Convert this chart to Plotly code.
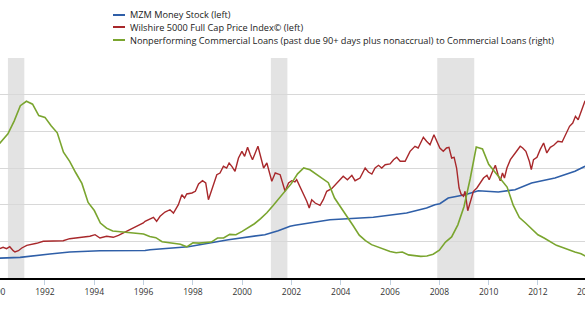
import numpy as np
import pandas as pd
import plotly.graph_objects as go

# ---------------- data ----------------
mzm_t = [1990.0, 1990.17, 1990.99, 1992.2, 1993.0, 1994.23, 1995.3, 1996.06, 1996.26, 1997.81,
         1999.44, 2000.92, 2001.46, 2001.94, 2002.14, 2003.56, 2005.32, 2006.67, 2007.48, 2007.82,
         2008.02, 2008.36, 2009.04, 2009.58, 2010.39, 2011.07, 2011.74, 2012.69, 2013.5, 2013.91]
mzm_v = [2150, 2182, 2255, 2618, 2836, 2980, 2950, 3000, 3090, 3415,
         4180, 4725, 5160, 5640, 5750, 6360, 6620, 7090, 7640, 8000,
         8110, 8730, 9090, 9525, 9380, 9635, 10365, 10910, 11640, 12190]

wil_t = [1990.17, 1990.30, 1990.44, 1990.57, 1990.71, 1990.78, 1990.92, 1991.06, 1991.26, 1991.46,
         1991.66, 1991.93, 1992.20, 1992.47, 1992.74, 1993.00, 1993.28, 1993.55, 1993.82, 1994.03,
         1994.23, 1994.50, 1994.77, 1994.98, 1995.18, 1995.45, 1995.72, 1995.99, 1996.06, 1996.26,
         1996.40, 1996.53, 1996.67, 1996.87, 1997.07, 1997.21, 1997.41, 1997.55, 1997.66, 1997.75,
         1997.96, 1998.10, 1998.23, 1998.39, 1998.52, 1998.63, 1998.77, 1998.97, 1999.10, 1999.24,
         1999.37, 1999.47, 1999.58, 1999.71, 1999.85, 1999.99, 2000.10, 2000.22, 2000.33, 2000.42,
         2000.53, 2000.64, 2000.73, 2000.87, 2001.00, 2001.20, 2001.34, 2001.54, 2001.74, 2001.88,
         2002.01, 2002.14, 2002.21, 2002.34, 2002.48, 2002.62, 2002.72, 2002.82, 2002.96, 2003.16,
         2003.29, 2003.43, 2003.63, 2003.83, 2003.97, 2004.10, 2004.27, 2004.45, 2004.58, 2004.78,
         2004.99, 2005.12, 2005.26, 2005.39, 2005.53, 2005.66, 2005.80, 2006.00, 2006.14, 2006.27,
         2006.41, 2006.61, 2006.81, 2007.01, 2007.14, 2007.35, 2007.48, 2007.62, 2007.78, 2007.91,
         2008.02, 2008.16, 2008.29, 2008.39, 2008.50, 2008.60, 2008.70, 2008.80, 2008.88, 2008.98,
         2009.04, 2009.15, 2009.25, 2009.38, 2009.52, 2009.66, 2009.79, 2009.93, 2010.02, 2010.13,
         2010.27, 2010.38, 2010.47, 2010.56, 2010.64, 2010.74, 2010.88, 2011.08, 2011.28, 2011.38,
         2011.51, 2011.65, 2011.73, 2011.82, 2011.96, 2012.09, 2012.23, 2012.36, 2012.50, 2012.64,
         2012.81, 2012.98, 2013.14, 2013.28, 2013.41, 2013.52, 2013.63, 2013.72, 2013.81, 2013.91]
wil_v = [3200, 3350, 3200, 3415, 2980, 2836, 2980, 3273, 3566, 3635,
         3786, 4004, 4004, 4070, 4070, 4290, 4364, 4440, 4550, 4725,
         4364, 4550, 4440, 4660, 4910, 5270, 5640, 6000, 6185, 6470,
         6620, 6185, 6730, 7200, 7450, 7090, 8000, 9090, 8730, 9165,
         9275, 9460, 10255, 10615, 10365, 8540, 9635, 11270, 11455, 12185,
         12000, 12545, 12185, 11640, 13090, 13820, 13275, 14260, 13450, 12905,
         13640, 14370, 13450, 12000, 12545, 10550, 11455, 11270, 9460, 10365,
         10615, 10475, 10725, 10000, 9090, 8370, 7640, 8540, 8180, 7930,
         8540, 9460, 9740, 10365, 10725, 11095, 10725, 11205, 10615, 10910,
         12000, 11565, 11345, 12000, 12295, 12000, 12360, 12440, 12905, 13170,
         12730, 12730, 13820, 14370, 14185, 15350, 14915, 14545, 15635, 14915,
         14185, 13820, 14185, 14260, 13090, 13170, 12000, 9820, 9165, 8910,
         9460, 7340, 8370, 9460, 9820, 10365, 10910, 11205, 10725, 11455,
         12295, 11270, 10615, 11455, 10910, 12000, 12905, 13640, 14370, 14185,
         13820, 12730, 11820, 12905, 13170, 14000, 14730, 13640, 14260, 14480,
         14915, 14840, 15820, 16550, 16910, 17640, 17270, 18000, 18620, 19340]

npl_start = "1990-01-01"  # quarterly series
npl_v = [3.55, 3.75, 3.93, 4.28, 4.70, 4.82, 4.74, 4.43, 4.38, 4.15, 3.96, 3.43,
         3.18, 2.87, 2.58, 2.06, 1.84, 1.50, 1.36, 1.28, 1.26, 1.25, 1.22, 1.21,
         1.20, 1.13, 1.10, 0.99, 0.97, 0.95, 0.92, 0.85, 0.96, 0.95, 0.96, 0.98,
         1.09, 1.09, 1.19, 1.18, 1.27, 1.37, 1.48, 1.62, 1.78, 1.97, 2.17, 2.37,
         2.58, 2.84, 3.00, 2.95, 2.84, 2.72, 2.60, 2.18, 1.94, 1.69, 1.43, 1.17,
         1.02, 0.91, 0.85, 0.78, 0.72, 0.69, 0.71, 0.63, 0.60, 0.59, 0.60, 0.65,
         0.76, 0.98, 1.12, 1.45, 1.95, 2.70, 3.57, 3.52, 3.10, 2.90, 2.70, 2.48,
         1.98, 1.65, 1.50, 1.35, 1.18, 1.09, 0.98, 0.89, 0.83, 0.76, 0.71, 0.66,
         0.57]

recessions = [("1990-07-01", "1991-03-01"), ("2001-03-01", "2001-11-01"), ("2007-12-01", "2009-06-01")]

tick_years = list(range(1990, 2016, 2))
x_range_years = (1990.174, 2013.907)

names = ["MZM Money Stock (left)",
         "Wilshire 5000 Full Cap Price Index© (left)",
         "Nonperforming Commercial Loans (past due 90+ days plus nonaccrual) to Commercial Loans (right)"]
colors = ["#2f5fa8", "#a8282b", "#7aa52f"]


def yr2date(y):
    y0 = int(np.floor(y))
    return pd.Timestamp(f"{y0}-01-01") + pd.Timedelta(days=(y - y0) * 365.25)


mzm_d = [yr2date(t) for t in mzm_t]
wil_d = [yr2date(t) for t in wil_t]
npl_d = pd.date_range(npl_start, periods=len(npl_v), freq="QS")

xr0, xr1 = yr2date(x_range_years[0]), yr2date(x_range_years[1])

fig = go.Figure()
fig.add_trace(go.Scatter(x=mzm_d, y=mzm_v, mode="lines", line=dict(color=colors[0], width=1.6),
                         name=names[0], showlegend=False))
fig.add_trace(go.Scatter(x=wil_d, y=wil_v, mode="lines", line=dict(color=colors[1], width=1.4),
                         name=names[1], showlegend=False))
fig.add_trace(go.Scatter(x=npl_d, y=npl_v, mode="lines", line=dict(color=colors[2], width=1.6),
                         name=names[2], showlegend=False, yaxis="y2"))

shapes = []
for a, b in recessions:
    shapes.append(dict(type="rect", xref="x", yref="paper", x0=a, x1=b, y0=0, y1=1,
                       fillcolor="#e3e3e3", line=dict(width=0), layer="below"))

W, H = 585, 329
mt, mb = 58, 51
ph = H - mt - mb
annotations = []
leg_y = [15, 27, 40]
for i, (nm, c) in enumerate(zip(names, colors)):
    py = (H - mb - leg_y[i]) / ph
    shapes.append(dict(type="line", xref="paper", yref="paper", x0=113 / W, x1=125 / W, y0=py, y1=py,
                       line=dict(color=c, width=2)))
    annotations.append(dict(xref="paper", yref="paper", x=128 / W, y=py, xanchor="left", yanchor="middle",
                            text=nm, showarrow=False, font=dict(family="Open Sans", size=9.2, color="#222")))

# partially visible edge tick labels
span = (xr1 - xr0).total_seconds()
ticks_in = []
for y in tick_years:
    d = pd.Timestamp(f"{y}-01-01")
    if xr0 <= d <= xr1:
        ticks_in.append(y)
    else:
        px = (d - xr0).total_seconds() / span
        annotations.append(dict(xref="paper", yref="paper", x=px, y=-0.025, xanchor="center", yanchor="top",
                                text=str(y), showarrow=False, font=dict(family="Open Sans", size=8.5, color="#333")))

fig.update_layout(
    width=W, height=H,
    margin=dict(l=0, r=0, t=mt, b=mb),
    paper_bgcolor="white", plot_bgcolor="white",
    xaxis=dict(type="date", range=[xr0, xr1],
               tickvals=[pd.Timestamp(f"{y}-01-01") for y in ticks_in],
               ticktext=[str(y) for y in ticks_in],
               showgrid=False, showline=True, linecolor="#000", linewidth=1.5,
               ticks="outside", ticklen=5, tickcolor="#c0d0e0", tickwidth=1,
               tickfont=dict(family="Open Sans", size=8.5, color="#333"), zeroline=False),
    yaxis=dict(range=[0, 24000], dtick=4000, showticklabels=False, showgrid=True,
               gridcolor="#d8d8d8", gridwidth=1, zeroline=False, showline=False),
    yaxis2=dict(range=[0, 6], dtick=1, overlaying="y", side="right", showticklabels=False,
                showgrid=False, zeroline=False, showline=False),
    shapes=shapes,
    annotations=annotations,
)

fig.write_html("out.html")
